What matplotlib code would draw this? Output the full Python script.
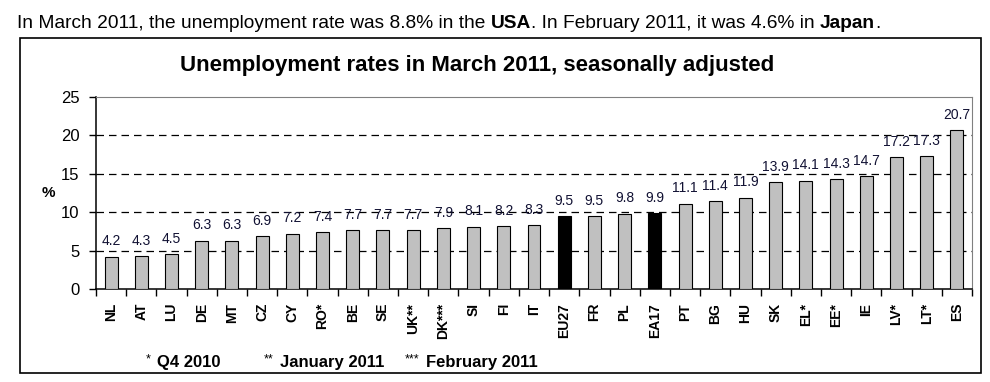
import numpy as np
from matplotlib import pyplot as plt
from matplotlib.patches import Rectangle

plt.rcParams['font.family'] = ['Liberation Sans', 'DejaVu Sans']

countries = ["NL", "AT", "LU", "DE", "MT", "CZ", "CY", "RO*", "BE", "SE", "UK**", "DK***",
             "SI", "FI", "IT", "EU27", "FR", "PL", "EA17", "PT", "BG", "HU", "SK", "EL*",
             "EE*", "IE", "LV*", "LT*", "ES"]
rates = [4.2, 4.3, 4.5, 6.3, 6.3, 6.9, 7.2, 7.4, 7.7, 7.7, 7.7, 7.9,
         8.1, 8.2, 8.3, 9.5, 9.5, 9.8, 9.9, 11.1, 11.4, 11.9, 13.9, 14.1,
         14.3, 14.7, 17.2, 17.3, 20.7]
aggregates = ["EU27", "EA17"]
yticks = [0, 5, 10, 15, 20, 25]

headline = [("In March 2011, the unemployment rate was 8.8% in the ", "normal"),
            ("USA", "bold"),
            (". In February 2011, it was 4.6% in ", "normal"),
            ("Japan", "bold"),
            (".", "normal")]
footnotes = [("*", "Q4 2010"), ("**", "January 2011"), ("***", "February 2011")]


def main():
    fig = plt.figure(figsize=(9.9, 3.82), dpi=100)

    # frame around the chart
    fig.patches.append(Rectangle((20/990, 9/382), 961/990, 335/382, transform=fig.transFigure,
                                 fill=False, edgecolor="black", linewidth=1.2))

    ax = fig.add_axes([96/990, 93/382, 876/990, 192/382])
    x = np.arange(len(countries))
    colors = ["black" if c in aggregates else "#c0c0c0" for c in countries]
    ax.bar(x, rates, width=0.43, color=colors, edgecolor="black", linewidth=0.8, zorder=3)
    for xi, v in zip(x, rates):
        ax.annotate("%.1f" % v, (xi, v), xytext=(0, 6), textcoords="offset points",
                    ha="center", va="bottom", fontsize=10, color="#111133", zorder=4)

    ax.set_xlim(-0.5, len(countries) - 0.5)
    ax.set_ylim(0, 25)
    ax.set_yticks(yticks)
    ax.set_yticklabels([str(t) for t in yticks], fontsize=12)
    ax.tick_params(axis="y", length=5, width=1, pad=7)
    ax.set_xticks(x)
    ax.set_xticklabels(countries, rotation=90, fontsize=10, fontweight="bold")
    ax.set_xticks(np.arange(-0.5, len(countries)), minor=True)
    ax.tick_params(axis="x", which="major", length=0, pad=10)
    ax.tick_params(axis="x", which="minor", length=5, width=1)
    for y in yticks[1:-1]:
        ax.axhline(y, color="black", linestyle=(0, (6, 4)), linewidth=0.9, zorder=1)
    for s in ["top", "right"]:
        ax.spines[s].set_color("#808080")
    for s in ["left", "bottom"]:
        ax.spines[s].set_linewidth(1.1)

    fig.text(48/990, 1 - 193/382, "%", fontsize=11, fontweight="bold", ha="center", va="center")
    fig.text(180/990, 1 - 66/382, "Unemployment rates in March 2011, seasonally adjusted",
             fontsize=16, fontweight="bold", ha="left", va="center")

    # headline built from pieces, mixing normal and bold
    renderer = fig.canvas.get_renderer()
    xpos = 17
    for txt, w in headline:
        t = fig.text(xpos/990, 1 - 28/382, txt, fontsize=13.8, fontweight=w, va="baseline", ha="left")
        xpos += t.get_window_extent(renderer).width

    # footnotes
    starts = [146, 264, 405]
    for (mark, txt), xs in zip(footnotes, starts):
        t = fig.text(xs/990, 1 - 362/382, mark, fontsize=9, va="baseline", ha="left")
        w = t.get_window_extent(renderer).width
        fig.text((xs + w + 6)/990, 1 - 367/382, txt, fontsize=12, fontweight="bold",
                 va="baseline", ha="left")

    fig.savefig("out.png", dpi=100)


if __name__ == "__main__":
    main()
